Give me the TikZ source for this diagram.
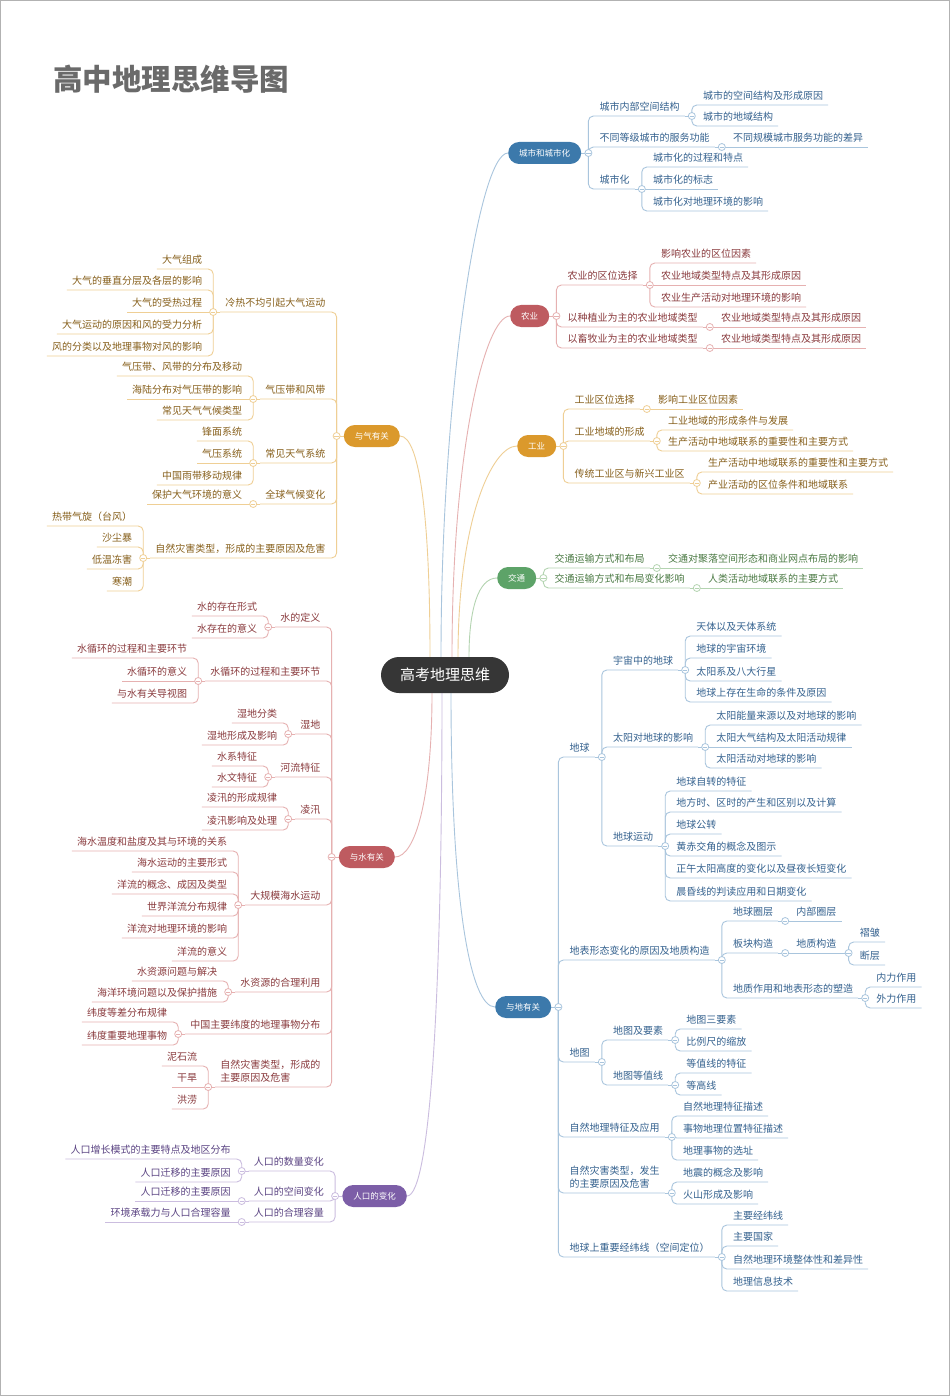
\documentclass[tikz,border=0pt]{standalone}
\usepackage{fontspec}
\setmainfont{Noto Sans CJK SC}
\usetikzlibrary{calc}
\pgfdeclarelayer{bg}
\pgfdeclarelayer{paper}
\pgfsetlayers{paper,bg,main}
\definecolor{lB}{HTML}{A9C5DD}\definecolor{tB}{HTML}{35628F}\definecolor{fB}{HTML}{3C79AB}
\definecolor{lR}{HTML}{E6B1B1}\definecolor{tR}{HTML}{8A3B3E}\definecolor{fR}{HTML}{BE5B60}
\definecolor{lO}{HTML}{EFCF95}\definecolor{tO}{HTML}{87601C}\definecolor{fO}{HTML}{DB992C}
\definecolor{lG}{HTML}{B4D4B1}\definecolor{tG}{HTML}{4B7A44}\definecolor{fG}{HTML}{5DA368}
\definecolor{lP}{HTML}{CBBDDF}\definecolor{tP}{HTML}{5B4483}\definecolor{fP}{HTML}{7C5EA7}
\definecolor{ttl}{HTML}{6A6A6A}\definecolor{ctrf}{HTML}{363636}
\newcommand\myfs{\fontsize{10}{12}\selectfont}
\newcommand\myfsm{\fontsize{10}{13}\selectfont}
\newcommand\myfp{\fontsize{8.5}{10}\selectfont}
\tikzset{
 ln/.style={draw=l#1, line width=0.9pt, rounded corners=5pt},
 lnc/.style={draw=l#1, line width=0.9pt},
 tx/.style={text=t#1, font=\myfs, inner xsep=5pt, inner ysep=4pt, text height=8pt, text depth=1pt},
 txm/.style={text=t#1, font=\myfsm, inner xsep=5pt, inner ysep=4pt, align=left},
 pill/.style={fill=f#1, text=white, font=\myfp, rounded corners=11pt, minimum height=22pt, inner xsep=11pt, inner ysep=0pt},
 jc/.style={circle, draw=l#1, fill=white, line width=0.8pt, minimum size=7pt, inner sep=0pt,
   path picture={\draw[l#1, line width=0.8pt] ([xshift=-2.2pt]path picture bounding box.center) -- ([xshift=2.2pt]path picture bounding box.center);}},
}
% right child: name, parent junction, line y, colour, text
\newcommand\myR[5]{%
 \node[tx=#4,anchor=south west,xshift=6pt] (#1) at (#2 |- 0,#3) {#5};
 \begin{pgfonlayer}{bg}\draw[ln=#4] (#2) |- (#1.south east);\end{pgfonlayer}}
\newcommand\myRs[5]{%
 \node[tx=#4,anchor=south west,xshift=6pt] (#1) at (#2 |- 0,#3) {#5};
 \begin{pgfonlayer}{bg}\draw[ln=#4] (#2) -- (#1.south east);\end{pgfonlayer}}
\newcommand\myRm[5]{%
 \node[txm=#4,anchor=south west,xshift=6pt] (#1) at (#2 |- 0,#3) {#5};
 \begin{pgfonlayer}{bg}\draw[ln=#4] (#2) |- (#1.south east);\end{pgfonlayer}}
\newcommand\myL[5]{%
 \node[tx=#4,anchor=south east,xshift=-6pt] (#1) at (#2 |- 0,#3) {#5};
 \begin{pgfonlayer}{bg}\draw[ln=#4] (#2) |- (#1.south west);\end{pgfonlayer}}
\newcommand\myLs[5]{%
 \node[tx=#4,anchor=south east,xshift=-6pt] (#1) at (#2 |- 0,#3) {#5};
 \begin{pgfonlayer}{bg}\draw[ln=#4] (#2) -- (#1.south west);\end{pgfonlayer}}
\newcommand\myLm[5]{%
 \node[txm=#4,anchor=south east,xshift=-6pt] (#1) at (#2 |- 0,#3) {#5};
 \begin{pgfonlayer}{bg}\draw[ln=#4] (#2) |- (#1.south west);\end{pgfonlayer}}
% junctions
\newcommand\myJR[2]{%
 \coordinate (#1j) at ([xshift=7pt]#1.south east);
 \begin{pgfonlayer}{bg}\draw[ln=#2] (#1.south east) -- (#1j);\end{pgfonlayer}
 \node[jc=#2] at (#1j) {};}
\newcommand\myJL[2]{%
 \coordinate (#1j) at ([xshift=-7pt]#1.south west);
 \begin{pgfonlayer}{bg}\draw[ln=#2] (#1.south west) -- (#1j);\end{pgfonlayer}
 \node[jc=#2] at (#1j) {};}
\newcommand\myPR[2]{%
 \coordinate (#1j) at ([xshift=7pt]#1.east);
 \begin{pgfonlayer}{bg}\draw[ln=#2] (#1.east) -- (#1j);\end{pgfonlayer}
 \node[jc=#2] at (#1j) {};}
\newcommand\myPL[2]{%
 \coordinate (#1j) at ([xshift=-7pt]#1.west);
 \begin{pgfonlayer}{bg}\draw[ln=#2] (#1.west) -- (#1j);\end{pgfonlayer}
 \node[jc=#2] at (#1j) {};}
\begin{document}
\begin{tikzpicture}[x=1pt,y=-1pt]
\useasboundingbox (0,0) rectangle (950,1396);
\begin{pgfonlayer}{paper}
\fill[white] (0,0) rectangle (950,1396);
\draw[gray!60, line width=0.8pt] (0.5,0.5) rectangle (949.5,1395.5);
\end{pgfonlayer}

\node[anchor=west, font=\fontsize{29.5}{31}\selectfont\bfseries, text=ttl, inner sep=0pt] (title) at (53,79) {高中地理思维导图};

% centre
\node[fill=ctrf, text=white, font=\fontsize{15}{17}\selectfont, rounded corners=18pt, minimum height=36pt, minimum width=128pt, inner sep=0pt] (ctr) at (445,675) {高考地理思维};

% main branches
\node[pill=B, anchor=west] (b1) at (508,153) {城市和城市化};
\node[pill=R, anchor=west] (b2) at (510,316) {农业};
\node[pill=O, anchor=west] (b3) at (517,446) {工业};
\node[pill=G, anchor=west] (b4) at (497,578) {交通};
\node[pill=B, anchor=west] (b5) at (495,1007) {与地有关};
\node[pill=O, anchor=east] (b6) at (400,436) {与气有关};
\node[pill=R, anchor=east] (b7) at (395,857) {与水有关};
\node[pill=P, anchor=east] (b8) at (407,1196) {人口的变化};

% centre connectors
\begin{pgfonlayer}{bg}
\draw[lnc=B] ([xshift=-4pt]ctr.north) .. controls (441,400) and (478,153) .. (b1.west);
\draw[lnc=R] ([xshift=7pt]ctr.north) .. controls (452,450) and (485,316) .. (b2.west);
\draw[lnc=O] ([xshift=13pt]ctr.north) .. controls (458,520) and (492,446) .. (b3.west);
\draw[lnc=G] ([xshift=24pt]ctr.north) .. controls (469,610) and (478,578) .. (b4.west);
\draw[lnc=O] ([xshift=-15pt]ctr.north) .. controls (430,520) and (420,436) .. (b6.east);
\draw[lnc=R] ([xshift=-13pt]ctr.south) .. controls (432,800) and (415,857) .. (b7.east);
\draw[lnc=P] ([xshift=-3pt]ctr.south) .. controls (442,1000) and (430,1196) .. (b8.east);
\draw[lnc=B] ([xshift=6pt]ctr.south) .. controls (451,900) and (470,1007) .. (b5.west);
\end{pgfonlayer}

\myPR{b1}{B}\myPR{b2}{R}\myPR{b3}{O}\myPR{b4}{G}\myPR{b5}{B}
\myPL{b6}{O}\myPL{b7}{R}\myPL{b8}{P}

% ---- 城市和城市化
\myR{a1}{b1j}{116}{B}{城市内部空间结构}\myJR{a1}{B}
 \myR{a11}{a1j}{105}{B}{城市的空间结构及形成原因}
 \myR{a12}{a1j}{126}{B}{城市的地域结构}
\myR{a2}{b1j}{147}{B}{不同等级城市的服务功能}\myJR{a2}{B}
 \myRs{a21}{a2j}{147}{B}{不同规模城市服务功能的差异}
\myR{a3}{b1j}{189}{B}{城市化}\myJR{a3}{B}
 \myR{a31}{a3j}{167}{B}{城市化的过程和特点}
 \myRs{a32}{a3j}{189}{B}{城市化的标志}
 \myR{a33}{a3j}{211}{B}{城市化对地理环境的影响}

% ---- 农业
\myR{n1}{b2j}{285}{R}{农业的区位选择}\myJR{n1}{R}
 \myR{n11}{n1j}{263}{R}{影响农业的区位因素}
 \myRs{n12}{n1j}{285}{R}{农业地域类型特点及其形成原因}
 \myR{n13}{n1j}{307}{R}{农业生产活动对地理环境的影响}
\myR{n2}{b2j}{327}{R}{以种植业为主的农业地域类型}\myJR{n2}{R}
 \myRs{n21}{n2j}{327}{R}{农业地域类型特点及其形成原因}
\myR{n3}{b2j}{348}{R}{以畜牧业为主的农业地域类型}\myJR{n3}{R}
 \myRs{n31}{n3j}{348}{R}{农业地域类型特点及其形成原因}

% ---- 工业
\myR{g1}{b3j}{409}{O}{工业区位选择}\myJR{g1}{O}
 \myRs{g11}{g1j}{409}{O}{影响工业区位因素}
\myR{g2}{b3j}{441}{O}{工业地域的形成}\myJR{g2}{O}
 \myR{g21}{g2j}{430}{O}{工业地域的形成条件与发展}
 \myR{g22}{g2j}{451}{O}{生产活动中地域联系的重要性和主要方式}
\myR{g3}{b3j}{483}{O}{传统工业区与新兴工业区}\myJR{g3}{O}
 \myR{g31}{g3j}{472}{O}{生产活动中地域联系的重要性和主要方式}
 \myR{g32}{g3j}{494}{O}{产业活动的区位条件和地域联系}

% ---- 交通
\myR{t1}{b4j}{568}{G}{交通运输方式和布局}\myJR{t1}{G}
 \myRs{t11}{t1j}{568}{G}{交通对聚落空间形态和商业网点布局的影响}
\myR{t2}{b4j}{588}{G}{交通运输方式和布局变化影响}\myJR{t2}{G}
 \myRs{t21}{t2j}{588}{G}{人类活动地域联系的主要方式}

% ---- 与地有关
\myR{d1}{b5j}{757}{B}{地球}\myJR{d1}{B}
 \myR{d11}{d1j}{670}{B}{宇宙中的地球}\myJR{d11}{B}
  \myR{d111}{d11j}{636}{B}{天体以及天体系统}
  \myR{d112}{d11j}{658}{B}{地球的宇宙环境}
  \myR{d113}{d11j}{681}{B}{太阳系及八大行星}
  \myR{d114}{d11j}{702}{B}{地球上存在生命的条件及原因}
 \myR{d12}{d1j}{747}{B}{太阳对地球的影响}\myJR{d12}{B}
  \myR{d121}{d12j}{725}{B}{太阳能量来源以及对地球的影响}
  \myRs{d122}{d12j}{747}{B}{太阳大气结构及太阳活动规律}
  \myR{d123}{d12j}{768}{B}{太阳活动对地球的影响}
 \myR{d13}{d1j}{846}{B}{地球运动}\myJR{d13}{B}
  \myR{d131}{d13j}{791}{B}{地球自转的特征}
  \myR{d132}{d13j}{812}{B}{地方时、区时的产生和区别以及计算}
  \myR{d133}{d13j}{834}{B}{地球公转}
  \myR{d134}{d13j}{856}{B}{黄赤交角的概念及图示}
  \myR{d135}{d13j}{878}{B}{正午太阳高度的变化以及昼夜长短变化}
  \myR{d136}{d13j}{901}{B}{晨昏线的判读应用和日期变化}
\myR{d2}{b5j}{960}{B}{地表形态变化的原因及地质构造}\myJR{d2}{B}
 \myR{d21}{d2j}{921}{B}{地球圈层}\myJR{d21}{B}
  \myRs{d211}{d21j}{921}{B}{内部圈层}
 \myR{d22}{d2j}{953}{B}{板块构造}\myJR{d22}{B}
  \myRs{d221}{d22j}{953}{B}{地质构造}\myJR{d221}{B}
   \myR{d2211}{d221j}{942}{B}{褶皱}
   \myR{d2212}{d221j}{965}{B}{断层}
 \myR{d23}{d2j}{998}{B}{地质作用和地表形态的塑造}\myJR{d23}{B}
  \myR{d231}{d23j}{987}{B}{内力作用}
  \myR{d232}{d23j}{1008}{B}{外力作用}
\myR{d3}{b5j}{1062}{B}{地图}\myJR{d3}{B}
 \myR{d31}{d3j}{1040}{B}{地图及要素}\myJR{d31}{B}
  \myR{d311}{d31j}{1029}{B}{地图三要素}
  \myR{d312}{d31j}{1051}{B}{比例尺的缩放}
 \myR{d32}{d3j}{1085}{B}{地图等值线}\myJR{d32}{B}
  \myR{d321}{d32j}{1073}{B}{等值线的特征}
  \myR{d322}{d32j}{1095}{B}{等高线}
\myR{d4}{b5j}{1137}{B}{自然地理特征及应用}\myJR{d4}{B}
 \myR{d41}{d4j}{1116}{B}{自然地理特征描述}
 \myR{d42}{d4j}{1138}{B}{事物地理位置特征描述}
 \myR{d43}{d4j}{1160}{B}{地理事物的选址}
\myRm{d5}{b5j}{1193}{B}{自然灾害类型，发生\\的主要原因及危害}\myJR{d5}{B}
 \myR{d51}{d5j}{1182}{B}{地震的概念及影响}
 \myR{d52}{d5j}{1204}{B}{火山形成及影响}
\myR{d6}{b5j}{1257}{B}{地球上重要经纬线（空间定位）}\myJR{d6}{B}
 \myR{d61}{d6j}{1225}{B}{主要经纬线}
 \myR{d62}{d6j}{1246}{B}{主要国家}
 \myR{d63}{d6j}{1269}{B}{自然地理环境整体性和差异性}
 \myR{d64}{d6j}{1291}{B}{地理信息技术}

% ---- 与气有关
\myL{q1}{b6j}{312}{O}{冷热不均引起大气运动}\myJL{q1}{O}
 \myL{q11}{q1j}{269}{O}{大气组成}
 \myL{q12}{q1j}{290}{O}{大气的垂直分层及各层的影响}
 \myLs{q13}{q1j}{312}{O}{大气的受热过程}
 \myL{q14}{q1j}{334}{O}{大气运动的原因和风的受力分析}
 \myL{q15}{q1j}{356}{O}{风的分类以及地理事物对风的影响}
\myL{q2}{b6j}{399}{O}{气压带和风带}\myJL{q2}{O}
 \myL{q21}{q2j}{376}{O}{气压带、风带的分布及移动}
 \myLs{q22}{q2j}{399}{O}{海陆分布对气压带的影响}
 \myL{q23}{q2j}{420}{O}{常见天气气候类型}
\myL{q3}{b6j}{463}{O}{常见天气系统}\myJL{q3}{O}
 \myL{q31}{q3j}{441}{O}{锋面系统}
 \myLs{q32}{q3j}{463}{O}{气压系统}
 \myL{q33}{q3j}{485}{O}{中国雨带移动规律}
\myL{q4}{b6j}{504}{O}{全球气候变化}\myJL{q4}{O}
 \myLs{q41}{q4j}{504}{O}{保护大气环境的意义}
\myL{q5}{b6j}{558}{O}{自然灾害类型，形成的主要原因及危害}\myJL{q5}{O}
 \myL{q51}{q5j}{526}{O}{热带气旋（台风）}
 \myL{q52}{q5j}{547}{O}{沙尘暴}
 \myL{q53}{q5j}{569}{O}{低温冻害}
 \myL{q54}{q5j}{591}{O}{寒潮}

% ---- 与水有关
\myL{w1}{b7j}{627}{R}{水的定义}\myJL{w1}{R}
 \myL{w11}{w1j}{616}{R}{水的存在形式}
 \myL{w12}{w1j}{638}{R}{水存在的意义}
\myL{w2}{b7j}{681}{R}{水循环的过程和主要环节}\myJL{w2}{R}
 \myL{w21}{w2j}{658}{R}{水循环的过程和主要环节}
 \myLs{w22}{w2j}{681}{R}{水循环的意义}
 \myL{w23}{w2j}{703}{R}{与水有关导视图}
\myL{w3}{b7j}{734}{R}{湿地}\myJL{w3}{R}
 \myL{w31}{w3j}{723}{R}{湿地分类}
 \myL{w32}{w3j}{745}{R}{湿地形成及影响}
\myL{w4}{b7j}{777}{R}{河流特征}\myJL{w4}{R}
 \myL{w41}{w4j}{766}{R}{水系特征}
 \myL{w42}{w4j}{787}{R}{水文特征}
\myL{w5}{b7j}{819}{R}{凌汛}\myJL{w5}{R}
 \myL{w51}{w5j}{807}{R}{凌汛的形成规律}
 \myL{w52}{w5j}{830}{R}{凌汛影响及处理}
\myL{w6}{b7j}{905}{R}{大规模海水运动}\myJL{w6}{R}
 \myL{w61}{w6j}{851}{R}{海水温度和盐度及其与环境的关系}
 \myL{w62}{w6j}{872}{R}{海水运动的主要形式}
 \myL{w63}{w6j}{894}{R}{洋流的概念、成因及类型}
 \myL{w64}{w6j}{916}{R}{世界洋流分布规律}
 \myL{w65}{w6j}{938}{R}{洋流对地理环境的影响}
 \myL{w66}{w6j}{961}{R}{洋流的意义}
\myL{w7}{b7j}{992}{R}{水资源的合理利用}\myJL{w7}{R}
 \myL{w71}{w7j}{981}{R}{水资源问题与解决}
 \myL{w72}{w7j}{1002}{R}{海洋环境问题以及保护措施}
\myL{w8}{b7j}{1034}{R}{中国主要纬度的地理事物分布}\myJL{w8}{R}
 \myL{w81}{w8j}{1022}{R}{纬度等差分布规律}
 \myL{w82}{w8j}{1045}{R}{纬度重要地理事物}
\myLm{w9}{b7j}{1087}{R}{自然灾害类型，形成的\\主要原因及危害}\myJL{w9}{R}
 \myL{w91}{w9j}{1066}{R}{泥石流}
 \myLs{w92}{w9j}{1087}{R}{干旱}
 \myL{w93}{w9j}{1109}{R}{洪涝}

% ---- 人口的变化
\myL{p1}{b8j}{1171}{P}{人口的数量变化}\myJL{p1}{P}
 \myL{p11}{p1j}{1159}{P}{人口增长模式的主要特点及地区分布}
 \myL{p12}{p1j}{1182}{P}{人口迁移的主要原因}
\myL{p2}{b8j}{1201}{P}{人口的空间变化}\myJL{p2}{P}
 \myLs{p21}{p2j}{1201}{P}{人口迁移的主要原因}
\myL{p3}{b8j}{1222}{P}{人口的合理容量}\myJL{p3}{P}
 \myLs{p31}{p3j}{1222}{P}{环境承载力与人口合理容量}
\end{tikzpicture}
\end{document}
